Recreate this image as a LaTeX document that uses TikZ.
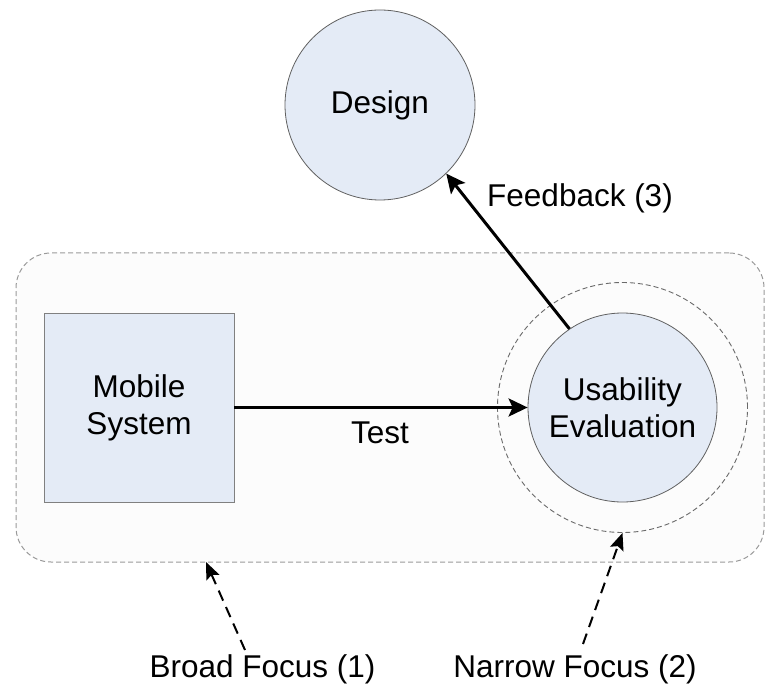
\documentclass[tikz,border=0pt]{standalone}
\usepackage{fontspec}
\setmainfont{Liberation Sans}
\usetikzlibrary{arrows.meta}
\definecolor{nodefill}{HTML}{E4EBF6}
\definecolor{boxfill}{HTML}{FCFCFC}
\definecolor{rimgray}{HTML}{606060}
\definecolor{sqgray}{HTML}{808080}
\definecolor{dashgray}{HTML}{9A9A9A}
\definecolor{ringgray}{HTML}{6A6A6A}
\tikzset{
  lbl/.style={font=\fontsize{31.5}{37}\selectfont, inner sep=0pt, align=center},
  bubble/.style={circle, draw=rimgray, line width=0.8pt, fill=nodefill, inner sep=0pt, lbl},
  sqbox/.style={rectangle, draw=sqgray, line width=0.8pt, fill=nodefill, inner sep=0pt, lbl},
  focusarea/.style={rectangle, rounded corners=35pt, draw=dashgray, line width=1pt, dash pattern=on 5pt off 3pt, fill=boxfill, inner sep=0pt},
  focusring/.style={circle, draw=ringgray, line width=0.9pt, dash pattern=on 5pt off 3pt, inner sep=0pt},
  flow/.style={line width=3pt, -{Stealth[length=19pt,width=18pt,inset=4pt]}},
  pointer/.style={line width=2pt, dash pattern=on 11pt off 7pt, -{Stealth[length=17pt,width=14pt,inset=3pt]}}
}
\begin{document}
\begin{tikzpicture}[x=1pt,y=-1pt]
\useasboundingbox (0,0) rectangle (765,684);
\node[focusarea, minimum width=748pt, minimum height=309pt] (broad) at (390,407.5) {};
\node[focusring, minimum size=250pt] (narrow) at (622.5,407.5) {};
\node[bubble, minimum size=190pt] (design) at (380,105) {Design};
\node[sqbox, minimum width=190pt, minimum height=189pt] (mobile) at (139,407.5) {Mobile\\System};
\node[bubble, minimum size=189pt] (usab) at (622.5,407.5) {Usability\\Evaluation};
\draw[flow] (mobile.east) -- (usab.west);
\draw[flow] (usab.124) -- (design.-46);
\node[lbl, anchor=base] (testlbl) at (380,443) {Test};
\node[lbl, anchor=base] (fblbl) at (580,207) {Feedback (3)};
\node[lbl, anchor=base] (broadlbl) at (262.5,677) {Broad Focus (1)};
\node[lbl, anchor=base] (narrowlbl) at (575,677) {Narrow Focus (2)};
\coordinate (broadtip) at (206,562);
\coordinate (broadfoot) at (245,650);
\coordinate (narrowfoot) at (583,644);
\draw[pointer] (broadfoot) -- (broadtip);
\draw[pointer] (narrowfoot) -- (narrow.south);
\end{tikzpicture}
\end{document}
